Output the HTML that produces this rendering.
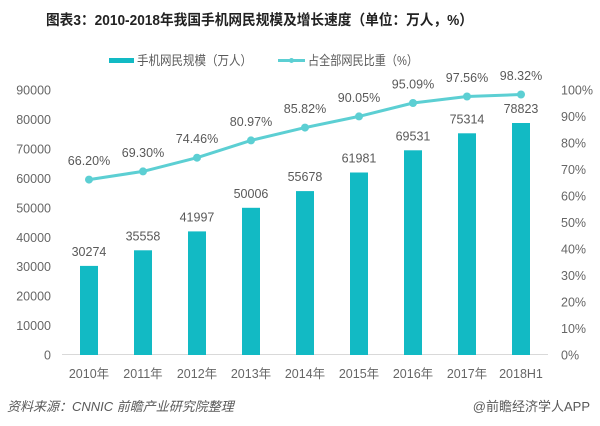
<!DOCTYPE html>
<html><head><meta charset="utf-8"><style>
html,body{margin:0;padding:0;background:#fff;width:600px;height:426px;overflow:hidden}
svg text{font-family:"Liberation Sans","Noto Sans CJK SC",sans-serif}
</style></head><body>
<svg width="600" height="426" viewBox="0 0 600 426" xmlns="http://www.w3.org/2000/svg">
<rect width="600" height="426" fill="#fff"/>
<text x="46" y="25" font-size="14.5" font-weight="bold" fill="#222" textLength="427" lengthAdjust="spacingAndGlyphs">图表3：2010-2018年我国手机网民规模及增长速度（单位：万人，%）</text>
<!-- legend -->
<rect x="109" y="58" width="25" height="5" fill="#12bac4"/>
<text x="137" y="65" font-size="13" fill="#595959" textLength="115" lengthAdjust="spacingAndGlyphs">手机网民规模（万人）</text>
<line x1="278" y1="60.5" x2="305" y2="60.5" stroke="#5ccfd3" stroke-width="3"/>
<circle cx="291.5" cy="60.5" r="2.5" fill="#5ccfd3"/>
<text x="308" y="65" font-size="13" fill="#595959" textLength="110" lengthAdjust="spacingAndGlyphs">占全部网民比重（%）</text>
<!-- left axis labels -->
<g font-size="12.5" fill="#666" text-anchor="end">
<text x="51" y="94.5">90000</text>
<text x="51" y="124">80000</text>
<text x="51" y="153.5">70000</text>
<text x="51" y="183">60000</text>
<text x="51" y="212.5">50000</text>
<text x="51" y="242">40000</text>
<text x="51" y="271">30000</text>
<text x="51" y="300.5">20000</text>
<text x="51" y="330">10000</text>
<text x="51" y="359.5">0</text>
</g>
<g font-size="12.5" fill="#666" text-anchor="start">
<text x="561" y="94.5">100%</text>
<text x="561" y="121">90%</text>
<text x="561" y="147.5">80%</text>
<text x="561" y="174">70%</text>
<text x="561" y="200.5">60%</text>
<text x="561" y="227">50%</text>
<text x="561" y="253.5">40%</text>
<text x="561" y="280">30%</text>
<text x="561" y="306.5">20%</text>
<text x="561" y="333">10%</text>
<text x="561" y="359.5">0%</text>
</g>
<line x1="62" y1="354.5" x2="548" y2="354.5" stroke="#d9d9d9" stroke-width="1"/>
<!-- bars -->
<g fill="#12bac4">
<rect x="80" y="265.9" width="18" height="89.1"/>
<rect x="134" y="250.3" width="18" height="104.7"/>
<rect x="188" y="231.4" width="18" height="123.6"/>
<rect x="242" y="207.8" width="18" height="147.2"/>
<rect x="296" y="191.1" width="18" height="163.9"/>
<rect x="350" y="172.5" width="18" height="182.5"/>
<rect x="404" y="150.3" width="18" height="204.7"/>
<rect x="458" y="133.3" width="18" height="221.7"/>
<rect x="512" y="123.0" width="18" height="232.0"/>
</g>
<g font-size="12.5" fill="#595959" text-anchor="middle">
<text x="89" y="256">30274</text>
<text x="143" y="240.5">35558</text>
<text x="197" y="221.5">41997</text>
<text x="251" y="198">50006</text>
<text x="305" y="181">55678</text>
<text x="359" y="162.5">61981</text>
<text x="413" y="140.5">69531</text>
<text x="467" y="123.5">75314</text>
<text x="521" y="113">78823</text>
</g>
<!-- line -->
<polyline fill="none" stroke="#5ccfd3" stroke-width="3" stroke-linejoin="round" points="89,179.6 143,171.4 197,157.7 251,140.4 305,127.6 359,116.4 413,103.0 467,96.5 521,94.5"/>
<g fill="#5ccfd3">
<circle cx="89" cy="179.6" r="4"/>
<circle cx="143" cy="171.4" r="4"/>
<circle cx="197" cy="157.7" r="4"/>
<circle cx="251" cy="140.4" r="4"/>
<circle cx="305" cy="127.6" r="4"/>
<circle cx="359" cy="116.4" r="4"/>
<circle cx="413" cy="103.0" r="4"/>
<circle cx="467" cy="96.5" r="4"/>
<circle cx="521" cy="94.5" r="4"/>
</g>
<g font-size="12.5" fill="#595959" text-anchor="middle">
<text x="89" y="165">66.20%</text>
<text x="143" y="157">69.30%</text>
<text x="197" y="143">74.46%</text>
<text x="251" y="126">80.97%</text>
<text x="305" y="113">85.82%</text>
<text x="359" y="102">90.05%</text>
<text x="413" y="88.5">95.09%</text>
<text x="467" y="82">97.56%</text>
<text x="521" y="80">98.32%</text>
</g>
<g font-size="12.5" fill="#666" text-anchor="middle">
<text x="89" y="378">2010年</text>
<text x="143" y="378">2011年</text>
<text x="197" y="378">2012年</text>
<text x="251" y="378">2013年</text>
<text x="305" y="378">2014年</text>
<text x="359" y="378">2015年</text>
<text x="413" y="378">2016年</text>
<text x="467" y="378">2017年</text>
<text x="521" y="378">2018H1</text>
</g>
<text x="7" y="411" font-size="13" font-style="italic" fill="#595959">资料来源：CNNIC  前瞻产业研究院整理</text>
<text x="590" y="411" font-size="13" fill="#595959" text-anchor="end">@前瞻经济学人APP</text>
</svg>
</body></html>
